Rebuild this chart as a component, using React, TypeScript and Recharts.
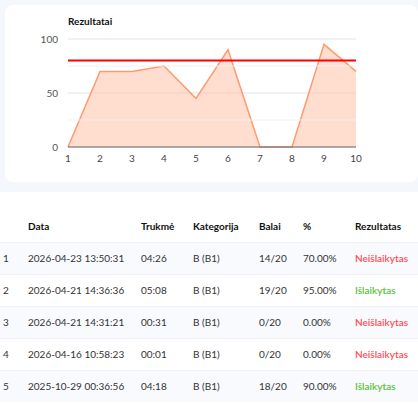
import React from 'react';
import {
    AreaChart,
    Area,
    XAxis,
    YAxis,
    CartesianGrid,
    ReferenceLine
} from 'recharts';

const attempts = ['1', '2', '3', '4', '5', '6', '7', '8', '9', '10'];
const percents = [0, 70, 70, 75, 45, 90, 0, 0, 95, 70];
const passMark = 80;
const yTicks = [0, 50, 100];
const minorLines = [25, 75];

const rowDates = [
    '2026-04-23 13:50:31',
    '2026-04-21 14:36:36',
    '2026-04-21 14:31:21',
    '2026-04-16 10:58:23',
    '2025-10-29 00:36:56'
];
const rowDurations = ['04:26', '05:08', '00:31', '00:01', '04:18'];
const rowCategories = ['B (B1)', 'B (B1)', 'B (B1)', 'B (B1)', 'B (B1)'];
const rowScores = ['14/20', '19/20', '0/20', '0/20', '18/20'];
const rowPercents = ['70.00%', '95.00%', '0.00%', '0.00%', '90.00%'];
const rowPassed = [false, true, false, false, true];

const headers = ['', 'Data', 'Trukmė', 'Kategorija', 'Balai', '%', 'Rezultatas'];
const colLeft = [3, 28, 141, 193, 259, 303, 355];

const chartData = attempts.map((a, i) => ({ attempt: a, pct: percents[i] }));

const font = 'Lato, "Noto Sans", sans-serif';

export default function App() {
    return (
        <div style={{ position: 'absolute', left: 0, top: 0, width: 418, height: 405, background: '#f4f7fc', fontFamily: font, overflow: 'hidden' }}>
            <div style={{ position: 'absolute', left: 5, top: 5, width: 413, height: 177, background: '#fff', borderRadius: 8 }}>
                <div style={{ position: 'absolute', left: 63, top: 10, fontSize: 10, fontWeight: 700, color: '#111' }}>
                    Rezultatai
                </div>
                <AreaChart
                    width={413}
                    height={177}
                    data={chartData}
                    margin={{ top: 34, right: 62, left: 0, bottom: 15 }}
                >
                    <CartesianGrid vertical={false} stroke="#e2e2e2" />
                    {minorLines.map(v => (
                        <ReferenceLine key={v} y={v} stroke="#f0f0f0" />
                    ))}
                    <XAxis
                        dataKey="attempt"
                        padding={{ left: 0, right: 0 }}
                        stroke="#666"
                        tickLine={false}
                        tick={{ fontSize: 10, fill: '#444' }}
                        height={20}
                        tickMargin={2}
                        interval={0}
                    />
                    <YAxis
                        width={63}
                        domain={[0, 100]}
                        ticks={yTicks}
                        axisLine={false}
                        tickLine={false}
                        tick={{ fontSize: 10, fill: '#555' }}
                        tickMargin={4}
                    />
                    <Area
                        type="linear"
                        dataKey="pct"
                        stroke="#ff9a70"
                        strokeWidth={1.5}
                        fill="#ffc3aa"
                        fillOpacity={0.55}
                        isAnimationActive={false}
                    />
                    <ReferenceLine y={passMark} stroke="#ff0000" strokeWidth={2} />
                </AreaChart>
            </div>
            <div style={{ position: 'absolute', left: 0, top: 192, width: 418, height: 213, background: '#fff' }}>
                {headers.map((h, i) => (
                    <div key={h + i} style={{ position: 'absolute', left: colLeft[i], top: 28, fontSize: 10, fontWeight: 700, color: '#111' }}>
                        {h}
                    </div>
                ))}
                {rowDates.map((d, r) => {
                    const top = 50 + r * 32;
                    const cells = [String(r + 1), d, rowDurations[r], rowCategories[r], rowScores[r], rowPercents[r]];
                    return (
                        <div key={d} style={{ position: 'absolute', left: 0, top, width: 418, height: 32, background: r % 2 === 0 ? '#f8fafd' : '#fff', borderTop: '1px solid #eef1f5', boxSizing: 'border-box' }}>
                            {cells.map((c, i) => (
                                <div key={i} style={{ position: 'absolute', left: colLeft[i], top: 9, fontSize: 10, color: '#333' }}>
                                    {c}
                                </div>
                            ))}
                            <div style={{ position: 'absolute', left: colLeft[6], top: 9, fontSize: 10, fontWeight: 600, color: rowPassed[r] ? '#5cc13a' : '#ff4f57' }}>
                                {rowPassed[r] ? 'Išlaikytas' : 'Neišlaikytas'}
                            </div>
                        </div>
                    );
                })}
            </div>
        </div>
    );
}
